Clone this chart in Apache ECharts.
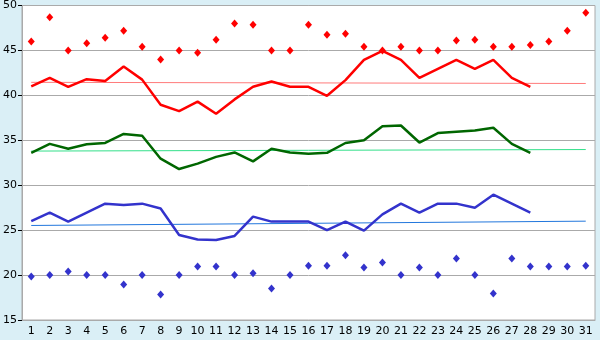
<!DOCTYPE html>
<html><head><meta charset="utf-8">
<script src="https://cdn.jsdelivr.net/npm/echarts@6/dist/echarts.min.js"></script>
<style>html,body{margin:0;padding:0;background:#daeff6}#c{width:600px;height:340px}</style>
</head><body><div id="c"></div>
<script>
const days = Array.from({length:31},(_,i)=>String(i+1));
const redDots = [46.0,48.7,45.0,45.8,46.4,47.2,45.4,44.0,45.0,44.75,46.2,48.0,47.85,45.0,45.0,47.85,46.75,46.85,45.4,45.0,45.4,45.0,45.0,46.1,46.2,45.4,45.4,45.6,46.0,47.2,49.2];
const redLine = [41.0,41.95,40.95,41.8,41.6,43.2,41.75,38.95,38.25,39.3,37.95,39.55,40.95,41.55,40.95,40.95,39.95,41.7,43.95,44.95,43.95,41.95,42.95,43.95,42.95,43.95,41.95,40.95];
const redTrend = [41.45,41.32];
const greenLine = [33.6,34.6,34.05,34.55,34.7,35.7,35.5,32.95,31.8,32.4,33.15,33.65,32.65,34.05,33.65,33.5,33.6,34.7,35.0,36.55,36.65,34.75,35.8,35.95,36.1,36.4,34.6,33.6];
const greenTrend = [33.8,33.97];
const blueLine = [26.0,26.95,25.95,26.95,27.95,27.8,27.95,27.4,24.45,23.95,23.9,24.35,26.5,25.95,25.95,25.95,25.0,25.95,24.95,26.75,27.95,26.95,27.95,27.95,27.5,28.95,27.95,26.95];
const blueTrend = [25.52,26.0];
const blueDots = [19.85,20.0,20.4,20.0,20.0,18.95,20.0,17.85,20.0,20.95,20.95,20.0,20.2,18.5,20.0,21.05,21.05,22.2,20.85,21.4,20.0,20.85,20.0,21.85,20.0,17.95,21.85,20.95,20.95,20.95,21.05];
const yTicks = {min:15,max:50,step:5};

const trend = (vals,color)=>({type:'line',data:[[days[0],vals[0]],[days[days.length-1],vals[1]]],symbol:'none',
  lineStyle:{color:color,width:1},silent:true,z:1,animation:false});
const dots = (vals,color)=>({type:'scatter',data:vals,symbol:'diamond',symbolSize:[7,8],itemStyle:{color:color,opacity:1},z:3,animation:false});
const thick = (vals,color)=>({type:'line',data:vals,symbol:'none',lineStyle:{color:color,width:2.5},z:2,animation:false});

const chart = echarts.init(document.getElementById('c'));
chart.setOption({
  backgroundColor:'#daeff6',
  animation:false,
  grid:{left:21,right:5,top:5,bottom:20,show:true,backgroundColor:'#ffffff',borderColor:'#aaaaaa',borderWidth:1},
  xAxis:{type:'category',data:days,boundaryGap:true,
    axisLine:{lineStyle:{color:'#aaaaaa'}},
    axisTick:{alignWithLabel:true,interval:0,length:4,lineStyle:{color:'#000'}},
    axisLabel:{interval:0,color:'#000',fontFamily:'DejaVu Sans',fontSize:11,margin:6},
    splitLine:{show:false}},
  yAxis:{type:'value',min:yTicks.min,max:yTicks.max,interval:yTicks.step,
    axisLine:{show:true,lineStyle:{color:'#aaaaaa'}},
    axisTick:{show:true,length:4,lineStyle:{color:'#000'}},
    axisLabel:{color:'#000',fontFamily:'DejaVu Sans',fontSize:11,margin:5},
    splitLine:{lineStyle:{color:'#aaaaaa',width:1}}},
  series:[
    trend(redTrend,'#ff7b7b'),
    trend(greenTrend,'#33e08a'),
    trend(blueTrend,'#2277dd'),
    thick(redLine,'#ff0000'),
    thick(greenLine,'#006600'),
    thick(blueLine,'#3333cc'),
    dots(redDots,'#ff0000'),
    dots(blueDots,'#3333cc')
  ]
});
</script></body></html>
